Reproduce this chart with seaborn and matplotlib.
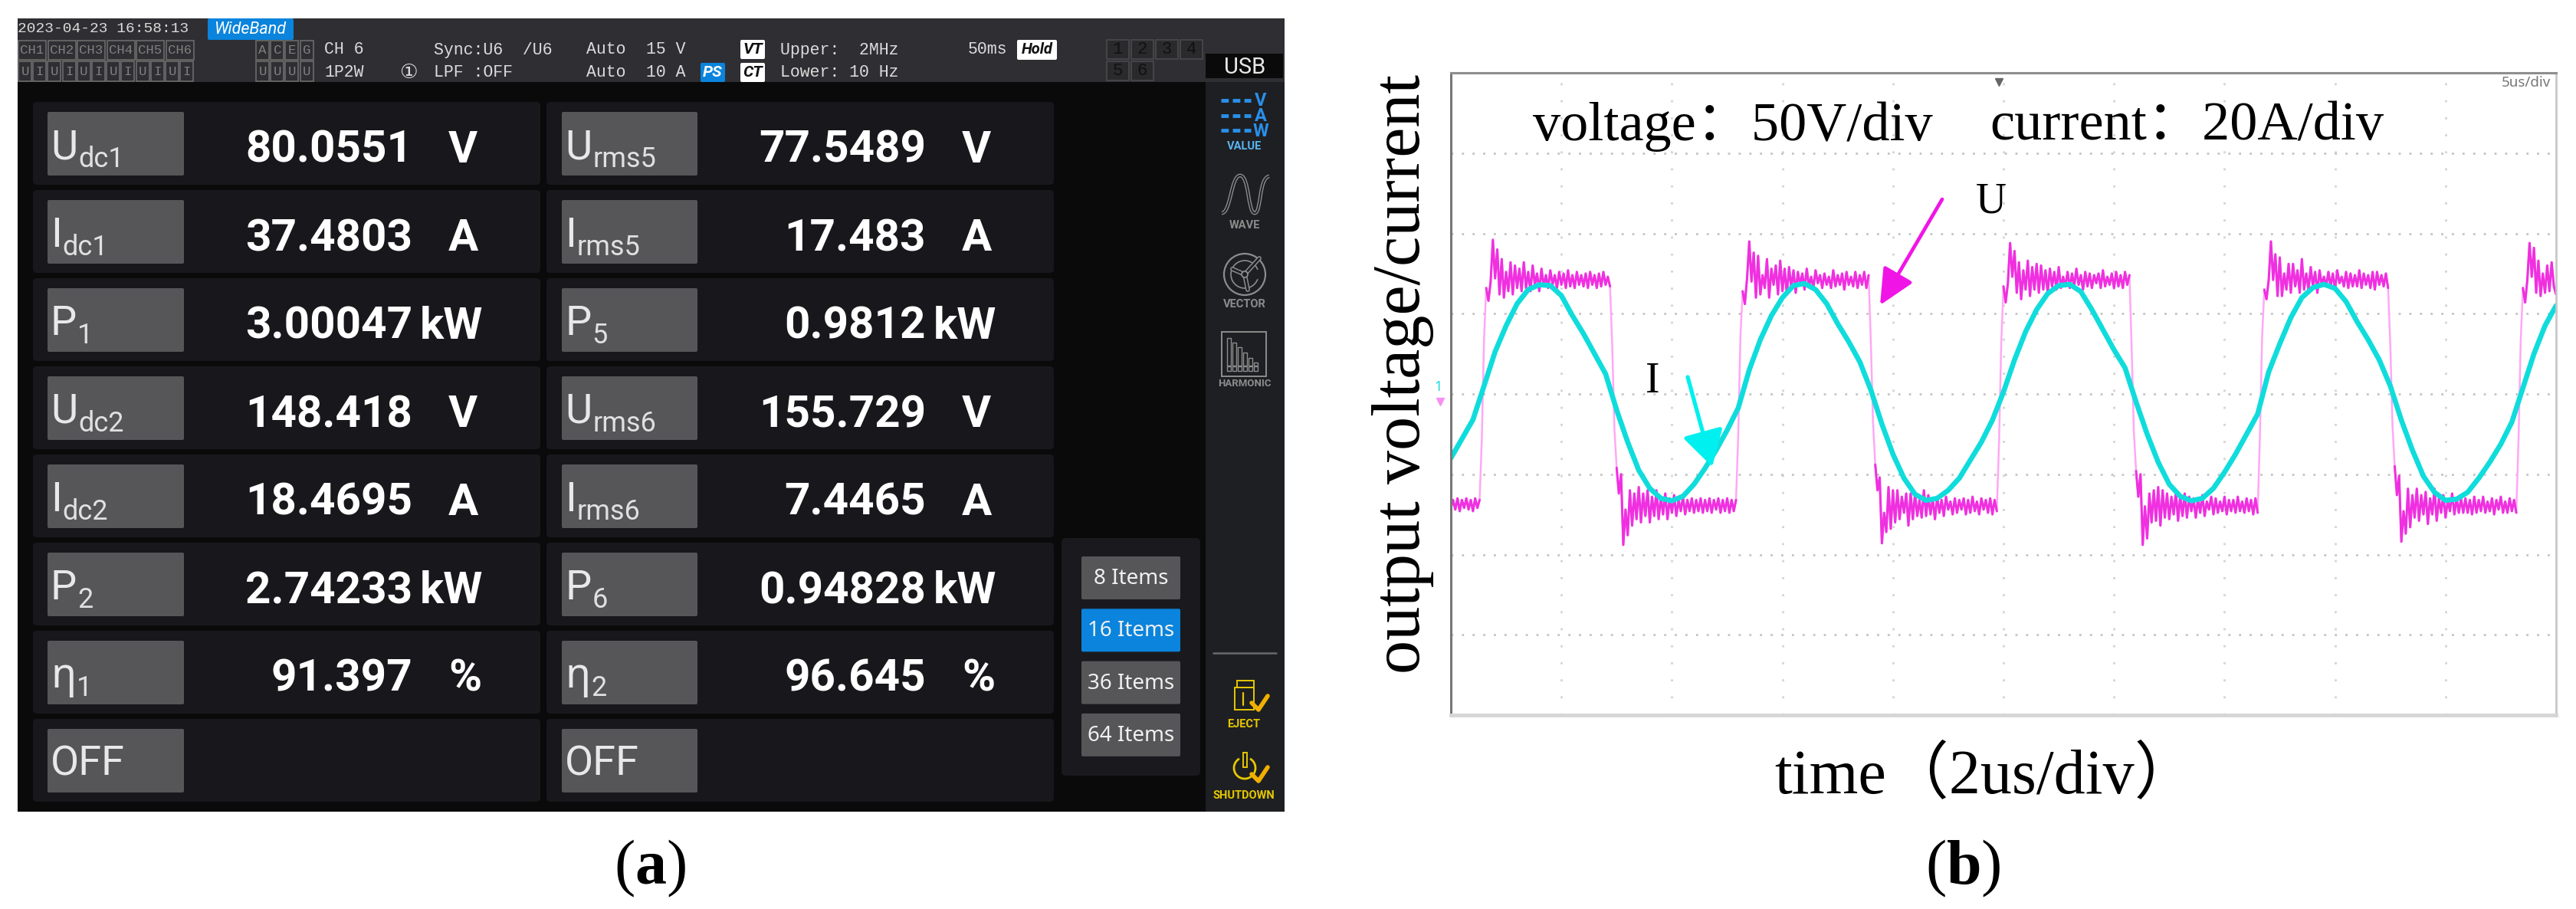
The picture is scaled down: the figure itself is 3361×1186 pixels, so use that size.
"""
Two panel figure: power analyser screen (a) and oscilloscope trace (b).
Run: python plot.py
Output: out.png
"""
import numpy as np
import pandas as pd
import matplotlib.pyplot as plt
import seaborn as sns
from matplotlib.patches import Rectangle, FancyBboxPatch, Circle, PathPatch, Arc
from matplotlib.path import Path

# --- Analyser readings, left and right column ---
left_main = ["U", "I", "P", "U", "I", "P", "η", "OFF"]
left_sub = ["dc1", "dc1", "1", "dc2", "dc2", "2", "1", ""]
left_values = ["80.0551", "37.4803", "3.00047", "148.418", "18.4695", "2.74233", "91.397", ""]
left_units = ["V", "A", "kW", "V", "A", "kW", "%", ""]
right_main = ["U", "I", "P", "U", "I", "P", "η", "OFF"]
right_sub = ["rms5", "rms5", "5", "rms6", "rms6", "6", "2", ""]
right_values = ["77.5489", "17.483", "0.9812", "155.729", "7.4465", "0.94828", "96.645", ""]
right_units = ["V", "A", "kW", "V", "A", "kW", "%", ""]
item_buttons = ["8 Items", "16 Items", "36 Items", "64 Items"]
side_icons = ["VALUE", "WAVE", "VECTOR", "HARMONIC"]

# --- Scope traces ---
VOLT_PER_DIV = 50
AMP_PER_DIV = 20
US_PER_DIV = 2
VOLT_STEP_US = 0.04
AMP_STEP_US = 0.2

# output voltage in V, one value per VOLT_STEP_US
volt_v = [
    -71, -66, -72, -65, -73, -66, -71, -65, -72, -66, -73, -65, -71, -66,
    -28, 34, 66, 58, 70, 96, 72, 90, 62, 84, 60, 76, 64, 82, 62, 80, 66, 78, 64, 82,
    66, 76, 64, 80, 68, 75, 64, 78, 67, 74, 66, 77, 68, 74, 66, 76, 68, 75, 66, 77,
    67, 74, 66, 76, 68, 74, 67, 75, 66, 76, 68, 74, 66, 75, 67, 76, 68, 73, 67,
    30, -22, -46, -62, -50, -94, -72, -88, -60, -82, -62, -78, -58, -80, -62, -76, -60, -80, -64, -76,
    -60, -78, -64, -75, -62, -78, -65, -74, -63, -76, -66, -73, -64, -75, -66, -73, -65, -74, -66, -73,
    -65, -74, -66, -73, -65, -74, -66, -72, -65, -74, -66, -73, -65, -74, -66, -73, -66,
    -26, 36, 64, 56, 72, 95, 70, 88, 60, 86, 62, 74, 66, 84, 60, 78, 68, 80, 62, 83,
    64, 78, 62, 79, 66, 77, 63, 76, 68, 75, 65, 78, 67, 73, 66, 77, 69, 74, 66, 75,
    68, 73, 66, 77, 67, 74, 68, 75, 65, 76, 68, 73, 67, 76, 66, 74, 68, 76, 66, 74,
    32, -18, -44, -60, -52, -93, -74, -86, -58, -84, -60, -80, -60, -78, -64, -74, -62, -82, -62, -78,
    -62, -76, -66, -77, -60, -76, -63, -75, -65, -78, -64, -74, -66, -76, -64, -72, -67, -75, -65, -74,
    -66, -72, -65, -75, -66, -74, -64, -73, -67, -75, -65, -72, -66, -74, -65, -75, -66, -73,
    -30, 32, 67, 57, 69, 94, 73, 89, 63, 82, 59, 77, 65, 83, 61, 79, 65, 81, 63, 80,
    65, 77, 63, 78, 67, 76, 65, 79, 66, 73, 67, 76, 66, 75, 67, 78, 68, 74, 65, 76,
    67, 75, 66, 74, 69, 75, 66, 77, 67, 73, 68, 75, 66, 76, 67, 74, 66, 76, 68, 74,
    28, -24, -48, -64, -50, -94, -70, -90, -62, -80, -60, -79, -58, -82, -60, -77, -62, -78, -64, -75,
    -61, -79, -63, -76, -62, -77, -64, -73, -65, -77, -65, -74, -63, -76, -67, -72, -64, -75, -65, -74,
    -67, -73, -64, -75, -66, -73, -66, -74, -64, -73, -67, -74, -65, -73, -66, -75, -65, -74,
    -27, 35, 65, 59, 71, 95, 71, 87, 61, 85, 61, 75, 65, 81, 63, 81, 67, 77, 63, 84,
    65, 75, 65, 79, 67, 76, 63, 77, 68, 73, 67, 76, 67, 75, 65, 77, 69, 73, 67, 76,
    66, 75, 67, 74, 67, 77, 66, 75, 68, 74, 66, 76, 65, 76, 68, 74, 67, 75, 66,
    31, -20, -45, -63, -51, -92, -73, -87, -59, -83, -63, -77, -59, -79, -63, -75, -61, -81, -65, -75,
    -59, -79, -65, -74, -63, -77, -66, -73, -62, -75, -65, -74, -65, -74, -65, -74, -66, -75, -64, -74,
    -66, -73, -64, -74, -67, -73, -65, -75, -66, -72, -64, -74, -67, -74, -65, -73, -66, -74,
    -29, 33, 66, 57, 71, 94, 73, 91, 63, 83, 61, 75, 63, 80, 64, 82, 67, 62,
]

# output current in A, one value per AMP_STEP_US
amp_i = [
    -16, -11.2, -6.4, 2, 10.5, 17, 22.5, 26, 27.2, 27, 24.5, 19.5, 15, 10, 5, -4, -12, -19, -23.5, -26,
    -26.6, -25.5, -22.5, -18.5, -14, -9, -3.5, 6, 13.5, 19.5, 24, 27, 27.5, 26, 22.5, 17.5, 13, 8, 1, -7.5,
    -15, -21, -25, -26.5, -26, -24, -21, -16.5, -12, -6.5, 0.5, 8.5, 15.5, 21, 25, 27, 27.3, 25.5, 21, 16,
    11, 6.5, -2, -10, -17, -22.5, -25.5, -26.6, -26, -23.5, -19.5, -15, -10, -5, 5.5, 12.5, 19, 24, 26.5, 27.3,
    26.3, 23, 18, 13.5, 8.5, 2, -6.5, -14, -20.5, -24.5, -26.5, -26.2, -24.5, -21, -17, -12.5, -7, 1.5, 10, 17,
    22,
]

# --- Theme ---
sns.set_theme(style="white")
plt.rcParams["font.family"] = ["Noto Sans", "DejaVu Sans"]

SCREEN_FONT = "Roboto"
SERIF = ["Liberation Serif", "Noto Sans CJK SC"]
MONO = ["Liberation Mono", "DejaVu Sans"]
HEADER_BG = "#2f2f33"
SCREEN_BG = "#0a0a0b"
CELL_BG = "#18181c"
LABEL_BG = "#565659"
SIDE_BG = "#1e1f23"
BLUE = "#0a84dc"
ICON_BLUE = "#2a8fe8"
ICON_GREY = "#8c8c8c"
YELLOW = "#e6c800"
ORANGE = "#f0b000"
MAGENTA = "#f030e0"
CYAN = "#10dcdc"

W, H = 3361, 1186
fig = plt.figure(figsize=(W / 100, H / 100), dpi=100, facecolor="white")

# --- Panel (b): the scope, placed at its spot in the figure ---
SC_L, SC_R, SC_T, SC_B = 1893, 3335, 95, 933
ax = fig.add_axes([SC_L / W, 1 - SC_B / H, (SC_R - SC_L) / W, (SC_B - SC_T) / H], zorder=1)

df_volt = pd.DataFrame({"t": np.arange(len(volt_v)) * VOLT_STEP_US, "v": np.array(volt_v) / VOLT_PER_DIV})
df_volt["half"] = np.cumsum(np.r_[0, np.diff(np.sign(volt_v)) != 0])
df_amp = pd.DataFrame({"t": np.arange(len(amp_i)) * AMP_STEP_US, "i": np.array(amp_i) / AMP_PER_DIV})

# faint edges first, then the dense plateaus on top
sns.lineplot(data=df_volt, x="t", y="v", color="#ffa8f5", lw=1.8, estimator=None, sort=False, ax=ax)
plateau = df_volt[df_volt["v"].abs() >= 0.85]
sns.lineplot(data=plateau, x="t", y="v", units="half", color=MAGENTA, lw=2.2,
             estimator=None, sort=False, legend=False, ax=ax)
sns.lineplot(data=df_amp, x="t", y="i", color=CYAN, lw=4.8, estimator=None, sort=False, ax=ax)

ax.set_xlim(0, 10 * US_PER_DIV)
ax.set_ylim(-4, 4)
ax.set_xticks(np.arange(US_PER_DIV, 10 * US_PER_DIV, US_PER_DIV))
ax.set_yticks(np.arange(-3, 4))
ax.tick_params(length=0, labelbottom=False, labelleft=False)
ax.grid(True, axis="y", color="#c4c4c4", lw=2, ls=(0, (1, 4)))
ax.grid(True, axis="x", color="#d4d4d4", lw=2, ls=(0, (1, 7)))
ax.set_axisbelow(True)
ax.spines["left"].set(color="#777777", lw=2.2, ls=(0, (2, 1)))
ax.spines["top"].set(color="#8e8e8e", lw=2.2)
ax.spines["right"].set(color="#c8c8c8", lw=2, ls=(0, (2, 1)))
ax.spines["bottom"].set(color="#d6d6d6", lw=3.5)

ax.set_xlabel("time（2us/div）", family=SERIF, fontsize=59, color="black", va="baseline")
ax.xaxis.set_label_coords((2591 - SC_L) / (SC_R - SC_L), (SC_B - 1035) / (SC_B - SC_T))
ax.set_ylabel("output voltage/current", family=SERIF, fontsize=63.5, color="black",
              va="baseline", ha="center", rotation_mode="anchor")
ax.yaxis.set_label_coords((1852 - SC_L) / (SC_R - SC_L), (SC_B - 488) / (SC_B - SC_T))

# --- Overlay in figure pixels for the screen and annotations ---
px = fig.add_axes([0, 0, 1, 1], zorder=2)
px.set_xlim(0, W)
px.set_ylim(H, 0)
px.axis("off")


def box(x0, y0, x1, y1, color, round_px=0, ec="none", lw=0, z=1):
    if round_px:
        p = FancyBboxPatch((x0 + round_px, y0 + round_px), x1 - x0 - 2 * round_px, y1 - y0 - 2 * round_px,
                           boxstyle=f"round,pad={round_px}", fc=color, ec=ec, lw=lw, zorder=z)
    else:
        p = Rectangle((x0, y0), x1 - x0, y1 - y0, fc=color, ec=ec, lw=lw, zorder=z)
    px.add_patch(p)


def label(x, y, s, size, color="white", **kw):
    kw.setdefault("va", "center")
    kw.setdefault("ha", "left")
    return px.text(x, y, s, fontsize=size, color=color, zorder=5, **kw)


# screen background, header, sidebar
box(23, 24, 1676, 1059, SCREEN_BG)
box(23, 24, 1676, 107, HEADER_BG, z=2)
box(1573, 107, 1676, 1059, SIDE_BG, z=2)
box(1573, 70, 1674, 102, "#0a0a0b", z=3)
label(1624, 88, "USB", 21, "#e8e8e8", ha="center", family=SCREEN_FONT)

# header left block
label(23, 37, "2023-04-23 16:58:13", 14, "#dcdcdc", family=MONO)
box(271, 24, 383, 52, BLUE, round_px=2, z=3)
label(327, 38, "WideBand", 15.5, "white", ha="center", style="italic", family=SCREEN_FONT)
for k in range(6):
    box(24 + k * 38.5, 53, 60 + k * 38.5, 78, "none", ec="#6a6a6a", lw=1.2, z=3)
    label(42 + k * 38.5, 66, f"CH{k + 1}", 12.5, "#808080", ha="center", family=MONO)
for k in range(12):
    box(24 + k * 19.2, 80, 41 + k * 19.2, 106, "none", ec="#6a6a6a", lw=1.2, z=3)
    label(32.5 + k * 19.2, 93, "UI"[k % 2], 12.5, "#808080", ha="center", family=MONO)
for k, ch in enumerate("ACEG"):
    box(334 + k * 19.2, 53, 351 + k * 19.2, 78, "none", ec="#6a6a6a", lw=1.2, z=3)
    label(342.5 + k * 19.2, 66, ch, 12.5, "#808080", ha="center", family=MONO)
    box(334 + k * 19.2, 80, 351 + k * 19.2, 106, "none", ec="#6a6a6a", lw=1.2, z=3)
    label(342.5 + k * 19.2, 93, "U", 12.5, "#808080", ha="center", family=MONO)

# header settings
for x, y, s in [(423, 65, "CH 6"), (423, 95, "1P2W"), (566, 65, "Sync:U6  /U6"), (566, 95, "LPF :OFF"),
                (765, 65, "Auto"), (765, 95, "Auto"), (843, 65, "15 V"), (843, 95, "10 A"),
                (1018, 65, "Upper:  2MHz"), (1018, 95, "Lower: 10 Hz"), (1263, 65, "50ms")]:
    label(x, y, s, 15.5, "#dcdcdc", family=MONO)
label(533, 95, "①", 19, "#dcdcdc", ha="center", family="DejaVu Sans")
box(914, 82, 946, 107, BLUE, round_px=2, z=3)
label(930, 95, "PS", 15, "white", ha="center", style="italic", weight="bold", family=SCREEN_FONT)
box(966, 52, 998, 77, "white", round_px=2, z=3)
label(982, 65, "VT", 15, "#111111", ha="center", style="italic", weight="bold", family=SCREEN_FONT)
box(966, 82, 998, 107, "white", round_px=2, z=3)
label(982, 95, "CT", 15, "#111111", ha="center", style="italic", weight="bold", family=SCREEN_FONT)
box(1327, 52, 1379, 78, "white", round_px=2, z=3)
label(1353, 65, "Hold", 14.5, "#111111", ha="center", style="italic", weight="bold", family=SCREEN_FONT)
for k in range(6):
    cx = 1444 + (k % 4) * 32
    cy = 52 + (k // 4) * 28
    box(cx, cy, cx + 29, cy + 25, "#2a2a2d", ec="#4a4a4d", lw=1.2, z=3)
    label(cx + 14.5, cy + 13, str(k + 1), 16, "#111111", ha="center", family=MONO)

# reading cells
fig.canvas.draw()
renderer = fig.canvas.get_renderer()
ROW_H = 115
columns = [
    (43, 705, 62, 240, 538, left_main, left_sub, left_values, left_units),
    (713, 1375, 733, 910, 1208, right_main, right_sub, right_values, right_units),
]
for x0, x1, lb0, lb1, num_r, mains, subs, values, units in columns:
    for r in range(8):
        dy = r * ROW_H
        box(x0, 133 + dy, x1, 241 + dy, CELL_BG, round_px=5, z=2)
        box(lb0, 146 + dy, lb1, 229 + dy, LABEL_BG, round_px=2, z=3)
        main_font = "Noto Sans" if mains[r] == "η" else SCREEN_FONT
        t = label(lb0 + 4, 207 + dy, mains[r], 39, "#e8e8e8", va="baseline", family=main_font)
        if subs[r]:
            w = t.get_window_extent(renderer).width
            label(lb0 + 5 + w, 218 + dy, subs[r], 26, "#e0e0e0", va="baseline", family=SCREEN_FONT)
        if values[r]:
            label(num_r, 212 + dy, values[r], 42, "white", ha="right", va="baseline",
                  weight="bold", family=SCREEN_FONT)
            unit_x = num_r + 10 if units[r] == "kW" else num_r + 47
            label(unit_x, 212 + dy, units[r], 42, "white", va="baseline", weight="bold", family=SCREEN_FONT)

# item count buttons
box(1385, 702, 1566, 1012, "#1a1a1e", round_px=6, z=2)
for k, name in enumerate(item_buttons):
    y0 = 726 + k * 68.3
    box(1411, y0, 1540, y0 + 56, BLUE if k == 1 else LABEL_BG, round_px=2, z=3)
    label(1475.5, y0 + 29, name, 20, "#f0f0f0", ha="center")

# sidebar icons
icon_labels_y = [191, 294, 397, 501]
for name, y in zip(side_icons, icon_labels_y):
    label(1624, y, name, 10.5 if name != "HARMONIC" else 9.5,
          "#5ab4f0" if name == "VALUE" else ICON_GREY, ha="center", weight="bold", family="Roboto")
for y, letter in zip([131, 151, 170], "VAW"):
    px.plot([1593, 1632], [y, y], color=ICON_BLUE, lw=3.5, ls=(0, (2, 1.1)), zorder=4)
    label(1645, y + 1, letter, 17, ICON_BLUE, ha="center", weight="bold", family="Roboto")

wave = Path([(1594, 278), (1606, 278), (1606, 229), (1618, 229), (1630, 229), (1628, 278),
             (1637, 278), (1646, 278), (1642, 232), (1656, 230)],
            [Path.MOVETO] + [Path.CURVE4] * 9)
px.add_patch(PathPatch(wave, fc="none", ec=ICON_GREY, lw=3.4, zorder=4))
px.add_patch(PathPatch(wave, fc="none", ec=SIDE_BG, lw=1.4, zorder=4))

px.add_patch(Circle((1624, 358), 27, fc="none", ec=ICON_GREY, lw=1.6, zorder=4))
px.add_patch(Arc((1624, 358), 36, 36, theta1=20, theta2=340, ec=ICON_GREY, lw=1.2, zorder=4))
for end in [(1643, 337), (1608, 351), (1628, 378)]:
    px.plot([1624, end[0]], [358, end[1]], color=ICON_GREY, lw=4.2, solid_capstyle="round", zorder=4)
    px.plot([1624, end[0]], [358, end[1]], color=SIDE_BG, lw=2, solid_capstyle="round", zorder=4)
px.add_patch(Circle((1624, 358), 4, fc=SIDE_BG, ec=ICON_GREY, lw=1.3, zorder=5))

box(1594, 433, 1652, 491, "none", ec=ICON_GREY, lw=1.4, z=4)
for k, top in enumerate([441, 447, 453, 460, 467, 473]):
    box(1601 + k * 7, top, 1606 + k * 7, 477, "none", ec=ICON_GREY, lw=1, z=4)
    box(1601 + k * 7, 478, 1606 + k * 7, 484, "none", ec=ICON_GREY, lw=1, z=4)

px.plot([1583, 1665], [852, 852], color="#6a6a6c", lw=1.8, zorder=4)

box(1614, 888, 1636, 897, "none", ec=YELLOW, lw=1.4, z=4)
box(1611, 897, 1636, 926, "none", ec=YELLOW, lw=1.4, z=4)
px.plot([1622, 1622], [904, 920], color=YELLOW, lw=1.6, zorder=4)
px.plot([1633, 1642, 1654], [917, 926, 908], color=ORANGE, lw=4, zorder=5)
label(1623, 945, "EJECT", 10.5, YELLOW, ha="center", weight="bold", family="Roboto")
px.add_patch(Arc((1624, 1002), 28, 28, theta1=-60, theta2=240, ec=YELLOW, lw=2, zorder=4))
box(1622, 982, 1627, 1001, "none", ec=YELLOW, lw=1.4, z=4)
px.plot([1633, 1642, 1654], [1010, 1019, 1001], color=ORANGE, lw=4, zorder=5)
label(1623, 1038, "SHUTDOWN", 10.5, YELLOW, ha="center", weight="bold", family="Roboto")

# --- Scope annotations ---
label(2000, 183, "voltage：50V/div", 52, "black", va="baseline", family=SERIF)
label(2596, 183, "current：20A/div", 52, "black", va="baseline", family=SERIF)
label(3328, 108, "5us/div", 13.5, "#777777", ha="right")
px.plot([2608], [107], marker="v", ms=7, color="#666666", zorder=5)
label(2156, 512, "I", 40, "black", ha="center", va="baseline", family=SERIF)
label(2598, 278, "U", 40, "black", ha="center", va="baseline", family=SERIF)
label(1877, 505, "1", 13, CYAN, ha="center", weight="bold")
px.plot([1879], [524], marker="v", ms=7, color="#f78ff0", zorder=5)
px.annotate("", xy=(2453, 398), xytext=(2534, 260), zorder=6,
            arrowprops=dict(arrowstyle="-|>,head_length=0.95,head_width=0.45", color="#f015e6", lw=3.4,
                            shrinkA=0, shrinkB=0, mutation_scale=30))
px.annotate("", xy=(2234, 609), xytext=(2202, 492), zorder=6,
            arrowprops=dict(arrowstyle="-|>,head_length=0.95,head_width=0.55", color="#00f0f0", lw=3.8,
                            shrinkA=0, shrinkB=0, mutation_scale=30))

# panel tags
plt.rcParams["mathtext.fontset"] = "custom"
plt.rcParams["mathtext.rm"] = "Liberation Serif"
plt.rcParams["mathtext.bf"] = "Liberation Serif:bold"
label(848, 1153, r"($\mathbf{a}$)", 59, "black", ha="center", va="baseline", family=SERIF)
label(2561, 1153, r"($\mathbf{b}$)", 59, "black", ha="center", va="baseline", family=SERIF)

fig.savefig("out.png", dpi=100, facecolor="white")
plt.close(fig)
